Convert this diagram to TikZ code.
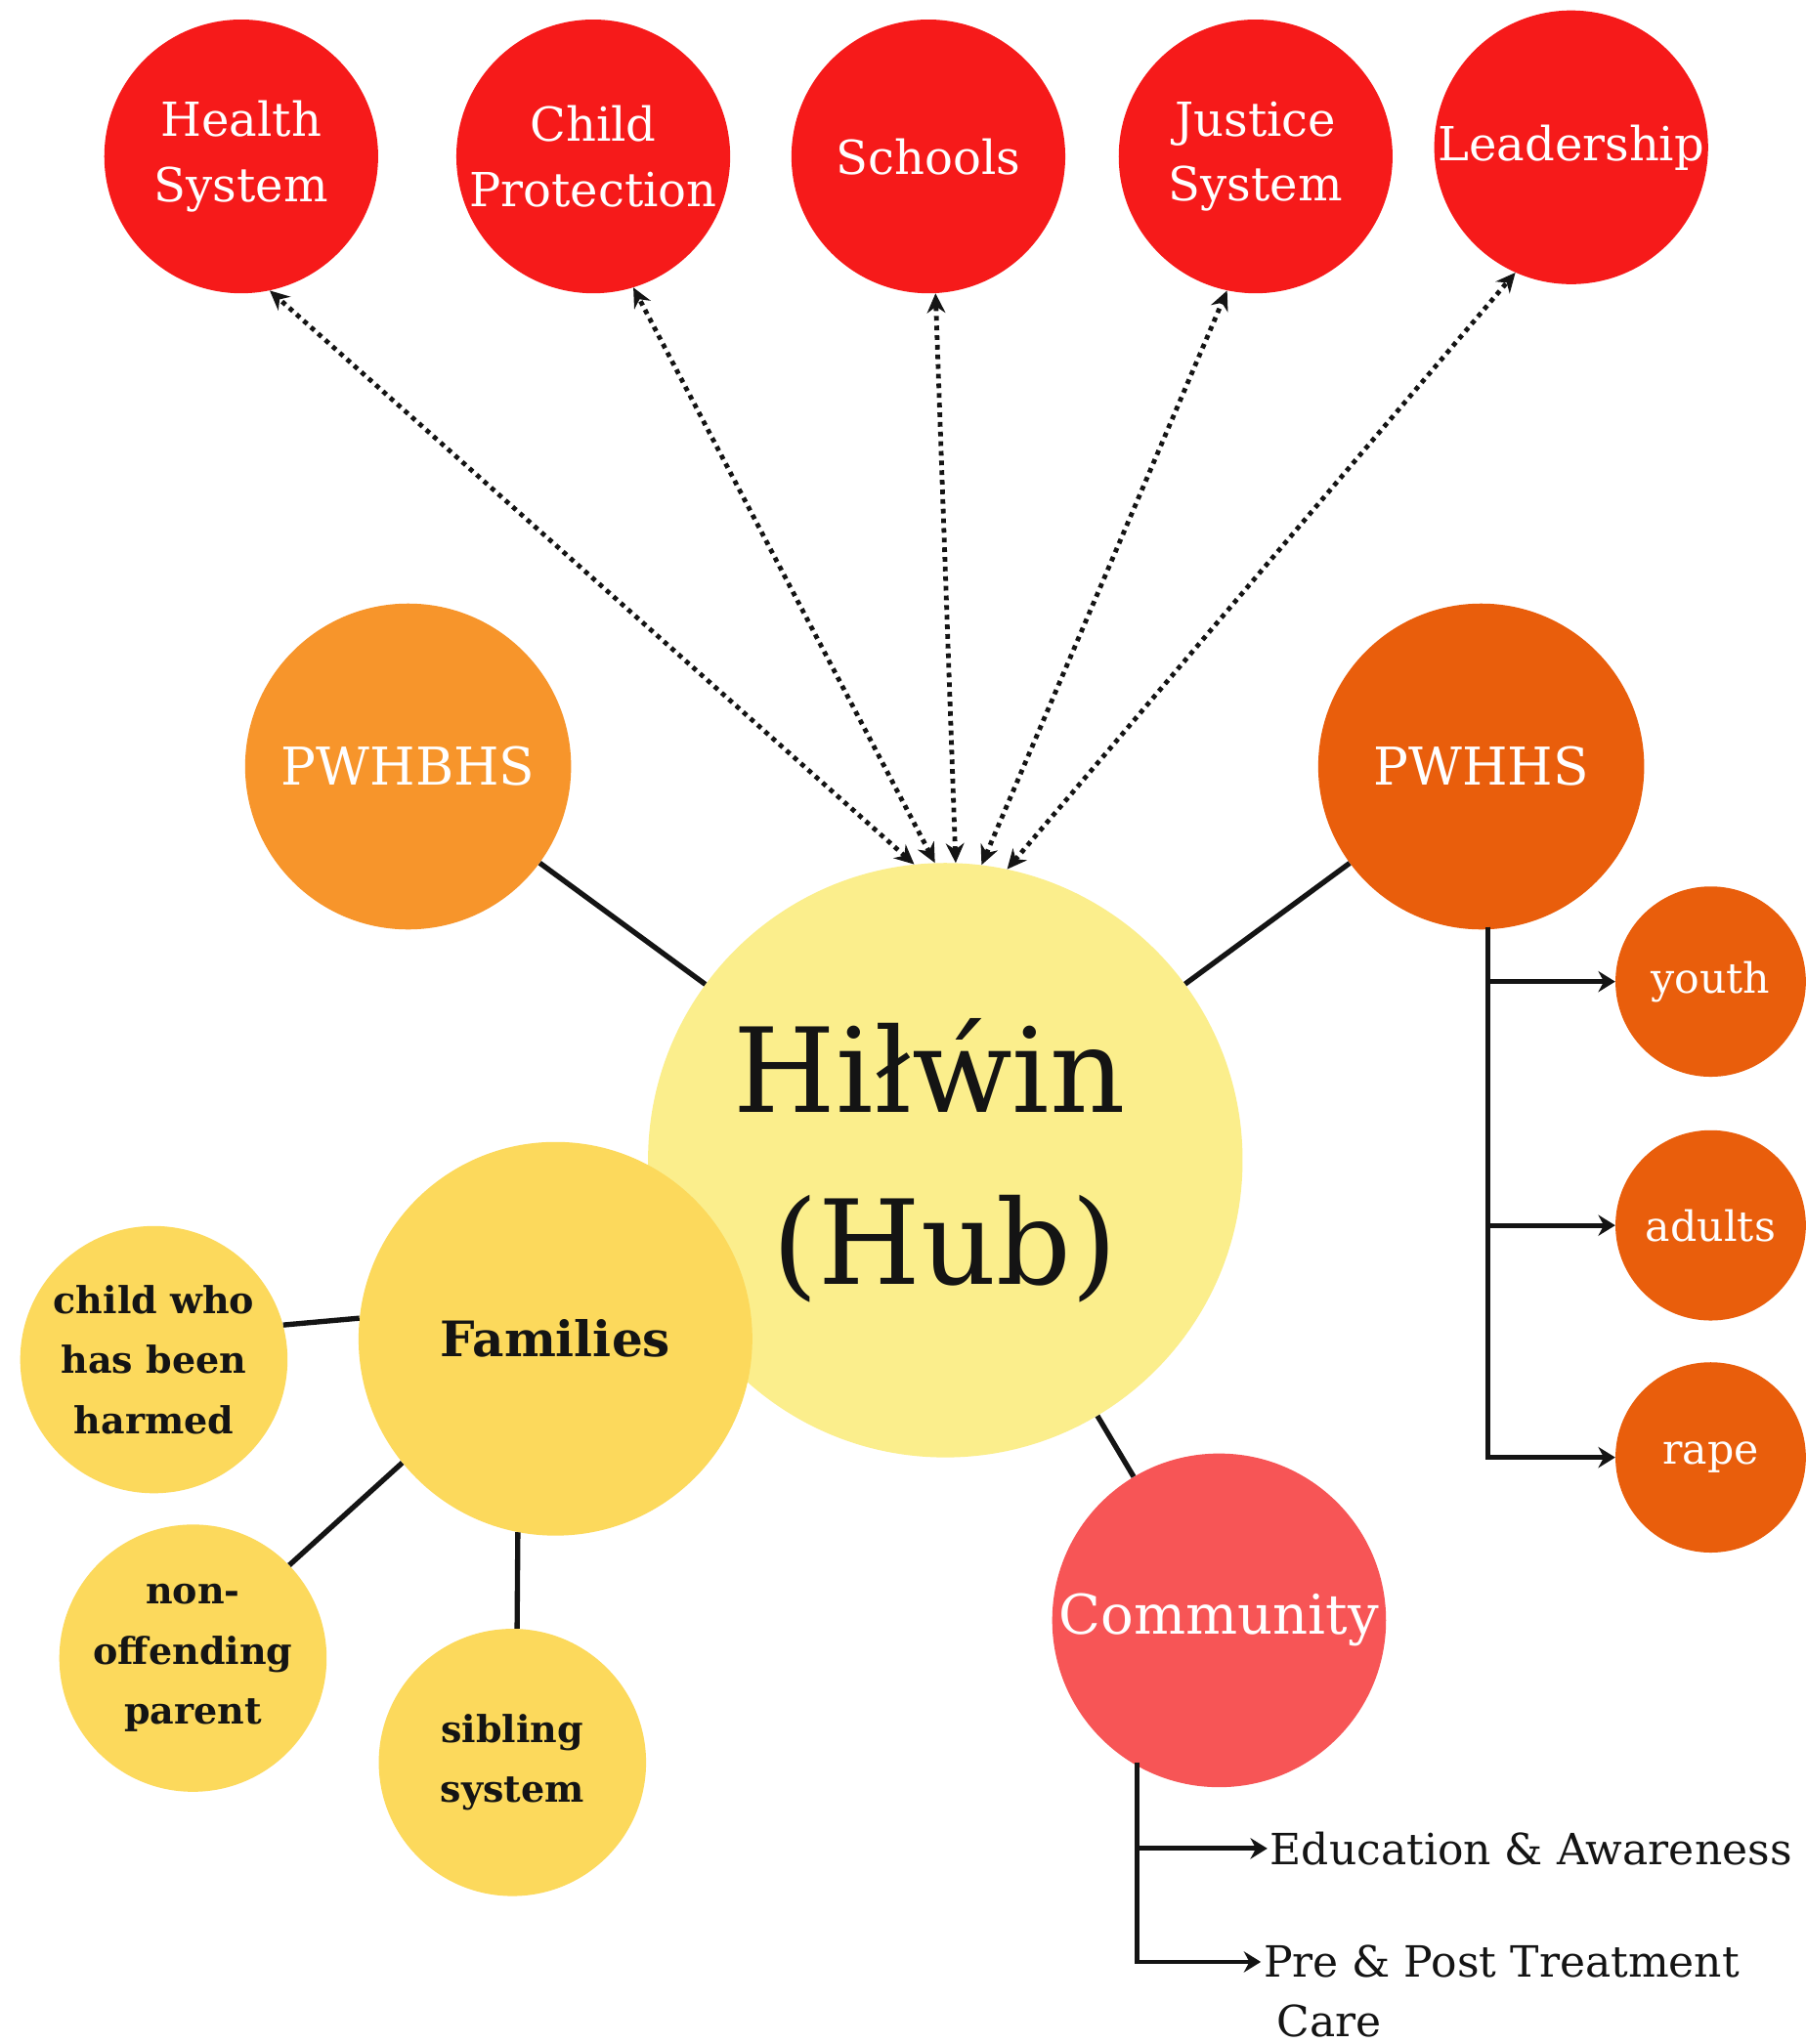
\documentclass[tikz,border=0pt]{standalone}
\usepackage{fontspec}
\setmainfont{DejaVu Serif}
\usetikzlibrary{arrows.meta}
\definecolor{topred}{RGB}{246,26,26}
\definecolor{pwbcol}{RGB}{247,149,43}
\definecolor{pwhcol}{RGB}{233,94,12}
\definecolor{hubcol}{RGB}{251,238,140}
\definecolor{famcol}{RGB}{252,217,92}
\definecolor{commcol}{RGB}{247,85,86}
\definecolor{inkcol}{RGB}{20,20,20}
\begin{document}
\begin{tikzpicture}[x=1pt,y=-1pt,
  topc/.style={circle, fill=topred, minimum size=210pt, inner sep=0pt, text=white, align=center, font=\fontsize{36}{50}\selectfont},
  bigc/.style={circle, minimum size=250pt, inner sep=0pt, text=white, font=\fontsize{40}{48}\selectfont},
  subc/.style={circle, fill=pwhcol, minimum size=146pt, inner sep=0pt, text=white, font=\fontsize{32}{40}\selectfont},
  yelc/.style={circle, fill=famcol, minimum size=205pt, inner sep=0pt, text=inkcol, align=center, font=\bfseries\fontsize{28.5}{46}\selectfont},
  lbl/.style={anchor=west, inner sep=2pt, text=inkcol, font=\fontsize{33}{46}\selectfont},
  link/.style={draw=inkcol, line width=4pt},
  treearrow/.style={draw=inkcol, line width=3.6pt, -{Stealth[length=13pt,width=16pt]}},
  dotarrow/.style={draw=inkcol, line width=3.6pt, dash pattern=on 3.6pt off 3.8pt, {Stealth[length=15pt,width=14pt]}-{Stealth[length=15pt,width=14pt]}}
]
\fill[white] (0,0) rectangle (1385,1568);
\useasboundingbox (0,0) rectangle (1385,1568);

% top row
\node[topc] (hs) at (185,120) {Health\\System};
\node[topc] (cp) at (455,120) {Child\\Protection};
\node[topc] (sc) at (712,120) {Schools};
\node[topc] (js) at (963,120) {Justice\\System};
\node[topc] (ld) at (1205,113) {Leadership};

% hub and main circles
\node[circle, fill=hubcol, minimum size=456pt, inner sep=0pt, align=center, text=inkcol, font=\fontsize{90}{132}\selectfont] (hub) at (725,890) {Hiłẃin\hspace*{24pt}\\(Hub)};
\node[bigc, fill=pwbcol] (pwb) at (313,588) {PWHBHS};
\node[bigc, fill=pwhcol] (pwh) at (1136,588) {PWHHS};
\node[circle, fill=famcol, minimum size=302pt, inner sep=0pt, text=inkcol, font=\bfseries\fontsize{37.5}{44}\selectfont] (fam) at (426,1027) {Families};
\node[circle, fill=commcol, minimum size=256pt, inner sep=0pt, text=white, font=\fontsize{42}{50}\selectfont] (comm) at (935,1243) {Community};

% family members
\node[yelc] (child) at (118,1043) {child who\\has been\\harmed};
\node[yelc] (nop) at (148,1272) {non-\\offending\\parent};
\node[yelc] (sib) at (393,1352) {sibling\\system};

% PWHHS sub-circles
\node[subc] (youth) at (1312,753) {youth};
\node[subc] (adults) at (1312,940) {adults};
\node[subc] (rape) at (1312,1118) {rape};

% community labels
\node[lbl] (edu) at (972,1418) {Education \& Awareness};
\node[lbl] (ppt) at (967,1505) {Pre \& Post Treatment};
\node[lbl] (care) at (977,1550) {Care};

% dotted bidirectional arrows
\draw[dotarrow] (hub.96) -- (hs.-78);
\draw[dotarrow] (hub.92) -- (cp.-73);
\draw[dotarrow] (hub.88) -- (sc.-87);
\draw[dotarrow] (hub.83) -- (js.-102);
\draw[dotarrow] (hub.78) -- (ld.-114);

% solid links
\draw[link] (pwb) -- (hub);
\draw[link] (pwh) -- (hub);
\draw[link] (hub) -- (comm);
\draw[link] (fam.174) -- (child.15);
\draw[link] (fam.219) -- (nop.44);
\draw[link] (fam.259) -- (sib.88);

% PWHHS tree
\coordinate (ptrunk) at (1141,711);
\draw[treearrow] (ptrunk) |- (youth.west);
\draw[treearrow] (ptrunk) |- (adults.west);
\draw[treearrow] (ptrunk) |- (rape.west);

% community tree
\coordinate (ctrunk) at (872,1352);
\draw[treearrow] (ctrunk) |- (edu.west);
\draw[treearrow] (ctrunk) |- (ppt.west);
\end{tikzpicture}
\end{document}
